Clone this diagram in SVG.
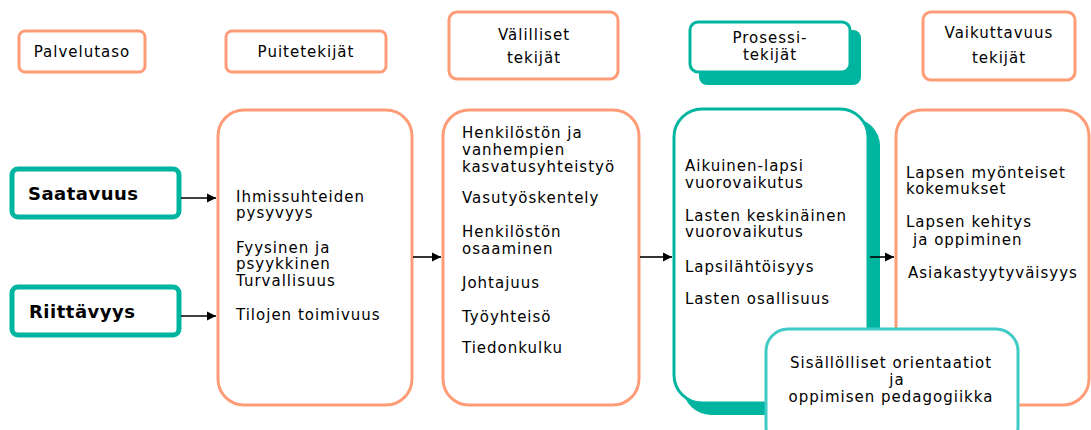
<svg xmlns="http://www.w3.org/2000/svg" width="1091" height="430" viewBox="0 0 1091 430">
<defs>
<marker id="ah" markerWidth="10" markerHeight="10" refX="9" refY="5" orient="auto" markerUnits="userSpaceOnUse">
<path d="M0,0.5 L9,5 L0,9.5 Z" fill="#000"/>
</marker>
<style>
.hdr{fill:#fff;stroke:#FF9C78;stroke-width:3}
.box{fill:#fff;stroke:#FF9C78;stroke-width:3}
.teal{fill:#fff;stroke:#00B5A0;stroke-width:3}
.tealfill{fill:#00B5A0}
.thick{fill:#fff;stroke:#00B5A0;stroke-width:5}
.lt{fill:#fff;stroke:#3FCCC6;stroke-width:3}
text{font-family:"DejaVu Sans","Liberation Sans",sans-serif;font-size:15px;fill:#000;letter-spacing:1px}
.c{text-anchor:middle}
.b{font-weight:bold;font-size:18px;letter-spacing:0.5px}
.conn{stroke:#000;stroke-width:1.6;fill:none}
</style>
</defs>
<rect width="1091" height="430" fill="#fff"/>

<g id="h-palvelutaso">
<rect class="hdr" x="19" y="31" width="126" height="41" rx="6"/>
<text class="c" x="82" y="57">Palvelutaso</text>
</g>
<g id="h-puitetekijat">
<rect class="hdr" x="226" y="31" width="160" height="41" rx="6"/>
<text class="c" x="306" y="57">Puitetekijät</text>
</g>
<g id="h-valilliset">
<rect class="hdr" x="449" y="12" width="169" height="67" rx="8"/>
<text class="c" x="534" y="40">Välilliset</text>
<text class="c" x="534" y="63">tekijät</text>
</g>
<g id="h-prosessi">
<rect class="tealfill" x="699" y="30" width="162" height="55" rx="8"/>
<rect class="teal" x="690" y="22" width="160" height="50" rx="8"/>
<text class="c" x="770" y="43">Prosessi-</text>
<text class="c" x="770" y="60">tekijät</text>
</g>
<g id="h-vaikuttavuus">
<rect class="hdr" x="923" y="12" width="152" height="68" rx="8"/>
<text class="c" x="999" y="38">Vaikuttavuus</text>
<text class="c" x="999" y="63">tekijät</text>
</g>

<g id="saatavuus">
<rect class="thick" x="12" y="169" width="167" height="48" rx="6"/>
<text class="b" x="28" y="200">Saatavuus</text>
</g>
<g id="riittavyys">
<rect class="thick" x="12" y="287" width="167" height="48" rx="6"/>
<text class="b" x="29" y="318">Riittävyys</text>
</g>

<g id="puite">
<rect class="box" x="218" y="110" width="194" height="295" rx="26"/>
<text x="236" y="202">Ihmissuhteiden</text>
<text x="236" y="218">pysyvyys</text>
<text x="236" y="253">Fyysinen ja</text>
<text x="236" y="269">psyykkinen</text>
<text x="236" y="286">Turvallisuus</text>
<text x="236" y="320">Tilojen toimivuus</text>
</g>

<g id="valilliset">
<rect class="box" x="443" y="110" width="196" height="295" rx="26"/>
<text x="462" y="138">Henkilöstön ja</text>
<text x="462" y="155">vanhempien</text>
<text x="462" y="172">kasvatusyhteistyö</text>
<text x="462" y="203">Vasutyöskentely</text>
<text x="462" y="237">Henkilöstön</text>
<text x="462" y="254">osaaminen</text>
<text x="462" y="288">Johtajuus</text>
<text x="462" y="322">Työyhteisö</text>
<text x="462" y="353">Tiedonkulku</text>
</g>

<g id="prosessi">
<rect class="tealfill" x="683" y="118" width="197" height="297" rx="28"/>
<rect class="teal" x="674" y="109" width="194" height="294" rx="28"/>
<text x="685" y="171">Aikuinen-lapsi</text>
<text x="685" y="188">vuorovaikutus</text>
<text x="685" y="221">Lasten keskinäinen</text>
<text x="685" y="237">vuorovaikutus</text>
<text x="685" y="272">Lapsilähtöisyys</text>
<text x="685" y="304">Lasten osallisuus</text>
</g>

<g id="vaikuttavuus">
<rect class="box" x="896" y="110" width="193" height="295" rx="26"/>
<text x="906" y="178">Lapsen myönteiset</text>
<text x="906" y="194">kokemukset</text>
<text x="906" y="227">Lapsen kehitys</text>
<text x="913" y="245">ja oppiminen</text>
<text x="908" y="278">Asiakastyytyväisyys</text>
</g>

<g id="sisallolliset">
<rect class="lt" x="766" y="329" width="252" height="120" rx="22"/>
<text class="c" x="891" y="368">Sisällölliset orientaatiot</text>
<text class="c" x="897" y="385">ja</text>
<text class="c" x="891" y="402">oppimisen pedagogiikka</text>
</g>

<g id="connectors">
<line class="conn" x1="181" y1="198" x2="216" y2="198" marker-end="url(#ah)"/>
<line class="conn" x1="181" y1="316" x2="216" y2="316" marker-end="url(#ah)"/>
<line class="conn" x1="413" y1="257" x2="441" y2="257" marker-end="url(#ah)"/>
<line class="conn" x1="640" y1="257" x2="672" y2="257" marker-end="url(#ah)"/>
<line class="conn" x1="870" y1="257" x2="894" y2="257" marker-end="url(#ah)"/>
</g>
</svg>
